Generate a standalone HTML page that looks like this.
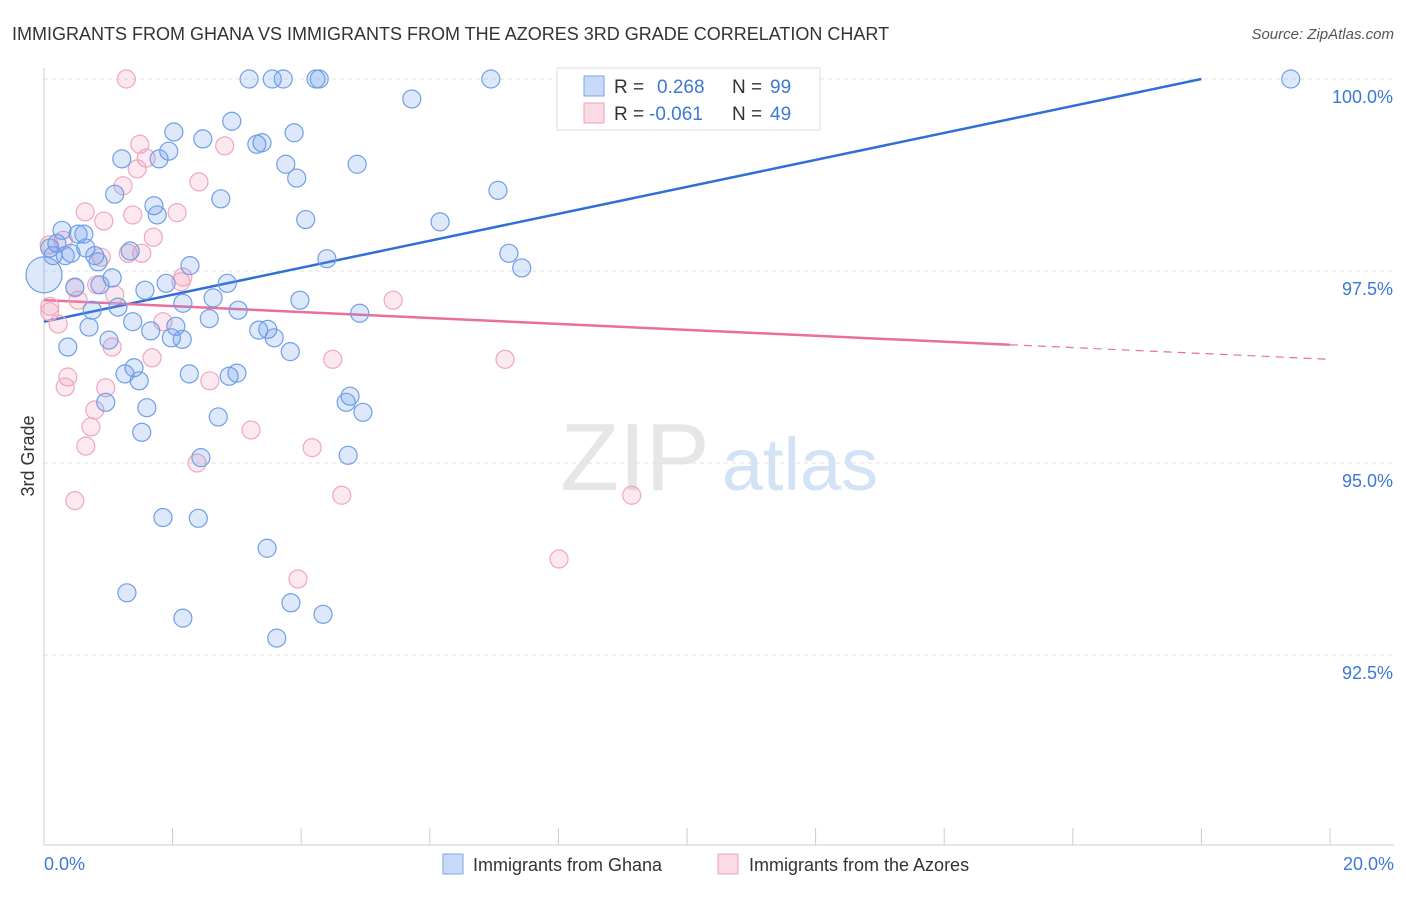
<!DOCTYPE html>
<html><head><meta charset="utf-8"><style>
body{margin:0;background:#fff;font-family:"Liberation Sans",sans-serif}
svg text{font-family:"Liberation Sans",sans-serif}
</style></head><body>
<svg id="chart" width="1406" height="892" viewBox="0 0 1406 892" xmlns="http://www.w3.org/2000/svg">
<text x="12" y="40" font-size="18" fill="#333">IMMIGRANTS FROM GHANA VS IMMIGRANTS FROM THE AZORES 3RD GRADE CORRELATION CHART</text>
<text x="1394" y="39" font-size="15" fill="#555" text-anchor="end" font-style="italic">Source: ZipAtlas.com</text>
<g>
<text x="635" y="490" font-size="96" fill="#e6e6e6" text-anchor="middle" font-family="Liberation Serif,serif">ZIP</text>
<text x="800" y="490" font-size="74" fill="#d4e2f5" text-anchor="middle">atlas</text>
</g>
<g id="grid"></g>
<g id="axes"></g>
<g id="trend"></g>
<g id="pts"></g>
<text transform="translate(34,456) rotate(-90)" font-size="18" fill="#333" text-anchor="middle">3rd Grade</text>
<text x="44" y="870" font-size="18" fill="#3c78d8">0.0%</text>
<text x="1394" y="870" font-size="18" fill="#3c78d8" text-anchor="end">20.0%</text>
<g>
<rect x="557" y="68" width="263" height="62" fill="#fff" stroke="#ddd"/>
<rect x="584" y="76" width="20" height="20" fill="rgba(100,149,237,0.35)" stroke="#7aa5e8"/>
<rect x="584" y="103" width="20" height="20" fill="rgba(240,150,180,0.35)" stroke="#f0a0bc"/>
<text x="614" y="93" font-size="19" fill="#333">R = </text><text x="657" y="93" font-size="19" fill="#3c78d8">0.268</text>
<text x="732" y="93" font-size="19" fill="#333">N = </text><text x="770" y="93" font-size="19" fill="#3c78d8">99</text>
<text x="614" y="120" font-size="19" fill="#333">R = </text><text x="649" y="120" font-size="19" fill="#3c78d8">-0.061</text>
<text x="732" y="120" font-size="19" fill="#333">N = </text><text x="770" y="120" font-size="19" fill="#3c78d8">49</text>
</g>
<g>
<rect x="443" y="854" width="20" height="20" fill="rgba(100,149,237,0.35)" stroke="#7aa5e8"/>
<text x="473" y="871" font-size="18" fill="#333">Immigrants from Ghana</text>
<rect x="718" y="854" width="20" height="20" fill="rgba(240,150,180,0.35)" stroke="#f0a0bc"/>
<text x="749" y="871" font-size="18" fill="#333">Immigrants from the Azores</text>
</g>
</svg>
<script>
const yTicks=[100,97.5,95,92.5];
const yTickLabels=["100.0%","97.5%","95.0%","92.5%"];
const xTicks=[0,2,4,6,8,10,12,14,16,18,20];
const ghanaX=[3.19,3.55,3.72,4.23,4.28,6.95,8.23,8.60,19.39,5.72,2.92,2.02,3.89,2.47,3.31,3.39,1.94,1.21,1.79,3.76,4.87,3.93,1.10,2.75,7.06,1.71,1.76,4.07,6.16,0.28,0.53,0.62,0.20,0.65,0.09,0.42,0.14,0.33,1.34,0.79,7.23,4.40,0.84,2.27,7.43,1.06,1.90,2.85,0.87,1.57,0.48,2.63,2.16,3.98,1.15,0.75,3.02,4.91,2.57,1.38,0.70,2.05,1.66,3.34,3.48,3.58,1.01,1.98,2.15,0.37,3.83,1.40,1.26,2.26,1.48,2.88,3.00,4.76,4.70,0.96,4.96,1.60,2.71,1.52,2.44,4.73,1.85,2.40,3.47,1.29,3.84,4.34,2.16,3.62,0];
const ghanaY=[100,100,100,100,100,100,100,99.96,100,99.74,99.45,99.31,99.30,99.22,99.15,99.17,99.06,98.96,98.96,98.89,98.89,98.71,98.50,98.44,98.55,98.35,98.23,98.17,98.14,98.03,97.98,97.98,97.86,97.80,97.80,97.73,97.70,97.70,97.76,97.70,97.73,97.66,97.62,97.57,97.54,97.41,97.34,97.34,97.32,97.25,97.29,97.15,97.08,97.12,97.03,96.99,96.99,96.95,96.88,96.84,96.77,96.78,96.72,96.73,96.74,96.63,96.60,96.63,96.61,96.51,96.45,96.24,96.16,96.16,96.07,96.13,96.17,95.87,95.79,95.79,95.66,95.72,95.60,95.40,95.07,95.10,94.29,94.28,93.89,93.31,93.18,93.03,92.98,92.72,97.45];
const azoresX=[1.28,9.19,11.07,1.49,2.81,1.59,1.45,2.41,1.23,0.64,1.38,2.07,0.93,1.70,0.30,1.52,0.89,1.31,2.16,2.13,0.82,0.48,1.10,0.53,5.43,0.09,0.09,0.22,1.85,1.06,1.68,4.49,7.17,0.37,0.33,0.96,2.58,0.79,0.73,3.22,0.65,4.17,2.38,4.63,0.48,9.14,8.01,3.95,0.08];
const azoresY=[100,100,100,99.15,99.13,98.97,98.83,98.66,98.61,98.27,98.23,98.26,98.15,97.94,97.90,97.73,97.68,97.73,97.42,97.36,97.32,97.28,97.19,97.12,97.12,97.04,96.97,96.81,96.84,96.51,96.37,96.35,96.35,96.12,95.99,95.98,96.07,95.69,95.47,95.43,95.22,95.20,95.00,94.58,94.51,94.58,93.75,93.49,97.84];
const ghanaTrend=[[0,96.84],[18.0,100]];
const azoresTrend=[[0,97.12],[15.02,96.54],[20,96.35]];
const NS="http://www.w3.org/2000/svg";
const xs=v=>44+v*64.3, ys=v=>79+(100-v)*76.8;
function mk(t,a,p){const e=document.createElementNS(NS,t);for(const k in a)e.setAttribute(k,a[k]);document.getElementById(p).appendChild(e);return e;}
yTicks.forEach((t,i)=>{
 const l=mk('line',{x1:44,x2:1394,y1:ys(t),y2:ys(t),stroke:'#e2e2e2','stroke-dasharray':'4,4'},'grid');
 
 
 const tx=mk('text',{x:1393,y:ys(t)+24,'font-size':18,fill:'#3c78d8','text-anchor':'end'},'axes');
 tx.textContent=yTickLabels[i];
 
 
});
const ax=mk('line',{x1:44,x2:1394,y1:845,y2:845,stroke:'#ccc'},'axes');


const ay=mk('line',{x1:44,x2:44,y1:68,y2:845,stroke:'#ccc'},'axes');


xTicks.forEach(t=>{
 const l=mk('line',{x1:xs(t),x2:xs(t),y1:828,y2:845,stroke:'#ccc'},'axes');
 
 
});
function pts(X,Y,fill,stroke,name){
 X.forEach((x,i)=>{
  const big=(x===0);
  const c=mk('circle',{cx:xs(x),cy:ys(Y[i]),r:big?18:9,fill:fill,stroke:stroke,'stroke-width':1.2},'pts');
  
  
 });
}
pts(azoresX,azoresY,'rgba(240,150,180,0.22)','#f0a6c0','azores-point');
pts(ghanaX,ghanaY,'rgba(100,149,237,0.22)','#6f9fe6','ghana-point');
const bt=mk('line',{x1:xs(ghanaTrend[0][0]),y1:ys(ghanaTrend[0][1]),x2:xs(ghanaTrend[1][0]),y2:ys(ghanaTrend[1][1]),stroke:'#2f6fd6','stroke-width':2.5},'trend');


const pt=mk('line',{x1:xs(azoresTrend[0][0]),y1:ys(azoresTrend[0][1]),x2:xs(azoresTrend[1][0]),y2:ys(azoresTrend[1][1]),stroke:'#e8709a','stroke-width':2.5},'trend');


const pd=mk('line',{x1:xs(azoresTrend[1][0]),y1:ys(azoresTrend[1][1]),x2:xs(azoresTrend[2][0]),y2:ys(azoresTrend[2][1]),stroke:'#e8709a','stroke-width':1.2,'stroke-dasharray':'8,6'},'trend');


</script>
</body></html>
